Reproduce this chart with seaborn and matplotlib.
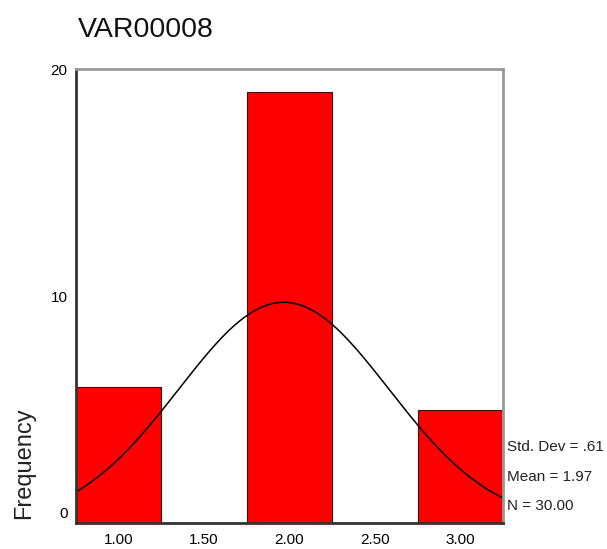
import matplotlib
matplotlib.use("Agg")
import matplotlib.pyplot as plt
import matplotlib.transforms as mtransforms
import seaborn as sns
import numpy as np
import pandas as pd

# data
values = [1.0, 2.0, 3.0]
counts = [6, 19, 5]
bin_edges = [0.75, 1.25, 1.75, 2.25, 2.75, 3.25]
x_ticks = [1.0, 1.5, 2.0, 2.5, 3.0]
x_labels = ["1.00", "1.50", "2.00", "2.50", "3.00"]
y_ticks = [0, 10, 20]
stats_lines = ["Std. Dev = .61", "Mean = 1.97", "N = 30.00"]

sns.set_style("white")
plt.rcParams['font.family'] = ['Liberation Sans', 'DejaVu Sans']

df = pd.DataFrame({'value': values, 'count': counts})

fig = plt.figure(figsize=(6.07, 5.49), dpi=100)
ax = fig.add_axes([0.125, 0.047, 0.704, 0.827])

sns.histplot(data=df, x='value', weights='count', bins=bin_edges, color='#ff0000',
             edgecolor='#3a1010', linewidth=0.8, alpha=1, ax=ax)

# normal curve scaled to N * bin width
n = sum(counts)
mean = sum(v * c for v, c in zip(values, counts)) / n
sd = np.sqrt(sum(c * (v - mean) ** 2 for v, c in zip(values, counts)) / (n - 1))
xs = np.linspace(0.75, 3.25, 200)
ys = n * 0.5 / (sd * np.sqrt(2 * np.pi)) * np.exp(-0.5 * ((xs - mean) / sd) ** 2)
sns.lineplot(x=xs, y=ys, color='black', linewidth=1.1, ax=ax)

ax.set_xlim(0.75, 3.25)
ax.set_ylim(0, 20)
ax.set_xticks(x_ticks)
ax.set_xticklabels(x_labels, fontsize=11)
ax.set_yticks(y_ticks)
ax.set_yticklabels([str(t) for t in y_ticks], fontsize=11)
ax.tick_params(axis='both', direction='out', length=3, width=1.5, colors='black', pad=4)
ax.tick_params(axis='y', length=2)
ax.set_xlabel("")
ax.set_ylabel("")

# SPSS puts the 0 label slightly above the axis line
lab0 = ax.get_yticklabels()[0]
lab0.set_transform(lab0.get_transform() + mtransforms.ScaledTranslation(0, 0.11, fig.dpi_scale_trans))

for s in ['left', 'bottom']:
    ax.spines[s].set_color('#333333')
    ax.spines[s].set_linewidth(2)
for s in ['top', 'right']:
    ax.spines[s].set_color('#999999')
    ax.spines[s].set_linewidth(2)

fig.text(0.129, 0.933, "VAR00008", fontsize=20.5, ha='left', va='baseline', color='#111111')
fig.text(0.040, 0.157, "Frequency", fontsize=17, rotation=90, ha='center', va='center', color='#222222')

for i, line in enumerate(stats_lines):
    fig.text(0.835, 0.186 - i * 0.054, line, fontsize=11, ha='left', va='center', color='#222222')

fig.savefig("out.png", dpi=100)
